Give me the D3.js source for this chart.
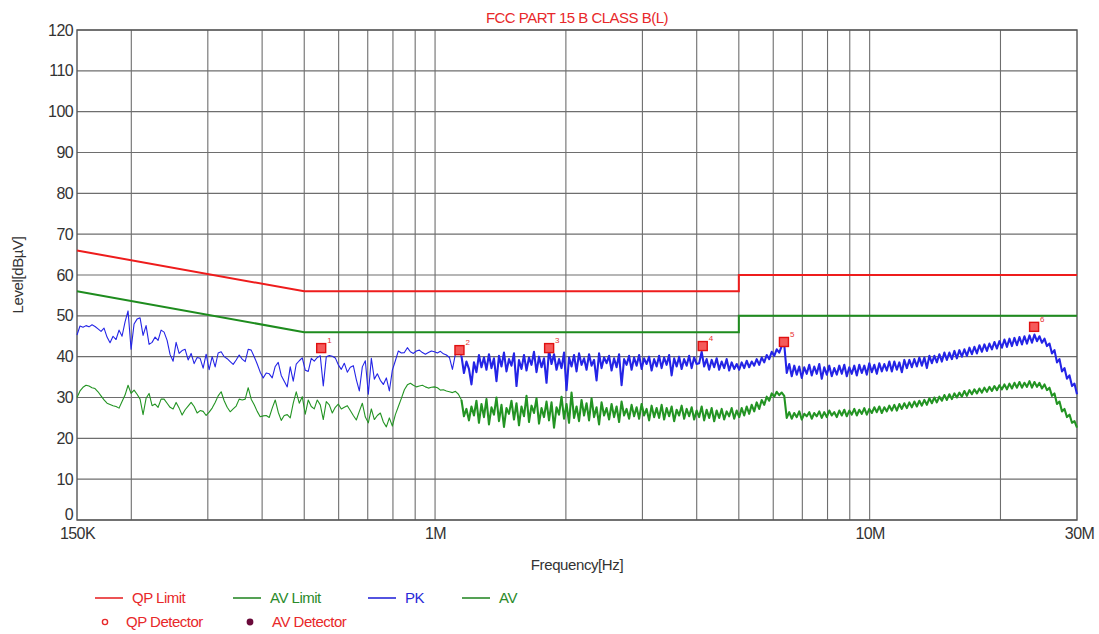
<!DOCTYPE html>
<html><head><meta charset="utf-8">
<script src="https://cdn.jsdelivr.net/npm/d3@7"></script>
<style>
body{margin:0;background:#fff}
svg{display:block}
text{font-family:"Liberation Sans",Arial,sans-serif}
</style>
</head><body>
<svg id="chart" width="1099" height="634"></svg>
<script>
// ---------- data ----------
const chartTitle = "FCC PART 15 B CLASS B(L)";
const yTickValues = [0,10,20,30,40,50,60,70,80,90,100,110,120];
const xTickFreqs = [0.15, 1, 10, 30];               // MHz
const xTickLabels = ["150K", "1M", "10M", "30M"];
const gridFreqs = [0.2,0.3,0.4,0.5,0.6,0.7,0.8,0.9,1,2,3,4,5,6,7,8,9,10,20];

const qpLimitFreq  = [0.15, 0.5, 5, 5, 30];
const qpLimitLevel = [66, 56, 56, 60, 60];
const avLimitFreq  = [0.15, 0.5, 5, 5, 30];
const avLimitLevel = [56, 46, 46, 50, 50];

// sweep segments: levels read at equal log-frequency steps
const seg1Range = [0.15, 1.15];   // MHz
const seg2Range = [1.15, 30];     // MHz

const pkSeg1 = [
45.3,47.5,47.2,47.6,47.3,47.8,47.4,46.8,46.2,47.0,
44.8,43.4,45.0,44.2,46.5,45.0,48.5,51.2,41.8,48.0,
49.2,49.5,45.2,47.6,43.0,43.5,44.8,44.0,46.5,46.0,
44.0,40.5,38.9,43.5,40.8,41.5,41.8,39.2,40.8,38.3,
39.8,39.6,37.2,40.6,36.8,40.0,37.5,40.9,41.2,40.0,
39.5,38.8,38.1,39.2,40.4,39.4,38.8,41.8,41.6,40.0,
38.2,36.2,34.8,36.0,35.8,34.8,37.6,38.6,35.4,34.0,
32.6,37.5,34.0,38.2,39.0,39.7,36.7,36.4,39.6,38.9,
39.8,40.2,32.8,40.0,40.3,40.1,39.7,38.0,36.9,38.4,
36.2,37.4,37.8,34.4,31.6,37.5,39.0,30.8,39.6,34.5,
35.8,34.2,33.2,34.8,31.6,36.7,39.0,41.4,40.9,41.0,
42.2,41.2,40.8,41.4,41.6,41.0,40.6,41.0,41.4,41.2,
40.9,41.3,40.7,40.4,39.8,36.9,40.7,41.0,40.2];

const pkSeg2 = [
40.2,36.0,38.8,37.0,33.2,38.6,36.2,40.4,37.4,39.8,
36.8,40.6,37.2,39.6,34.0,40.2,37.6,41.0,36.4,39.4,
37.8,40.8,32.8,39.2,37.0,40.4,36.6,39.8,38.0,41.2,
36.2,40.0,37.4,39.6,33.6,41.6,38.2,40.6,36.8,39.4,
37.2,41.0,31.8,39.8,37.6,40.4,36.4,40.8,38.0,39.6,
36.8,40.6,37.8,39.2,34.2,40.8,37.2,39.8,38.4,40.2,
36.6,39.6,37.4,40.6,33.0,39.4,38.0,40.2,36.8,39.8,
37.8,40.4,37.0,39.6,38.2,40.0,36.6,39.4,37.6,40.2,
37.2,39.8,38.0,40.4,35.4,39.6,37.6,40.0,37.0,39.4,
37.8,40.2,37.2,39.8,38.2,38.4,41.2,37.6,39.4,36.8,
39.2,37.4,39.6,36.8,38.8,37.2,39.4,36.6,38.6,37.0,
38.2,36.8,38.6,37.2,39.0,37.4,38.8,37.8,39.4,38.0,
39.8,38.6,40.4,39.4,41.2,40.2,41.8,41.0,42.6,43.0,
36.0,38.2,35.2,37.8,35.6,37.6,34.8,37.4,35.8,38.0,
35.4,37.6,35.8,38.2,34.6,37.4,35.6,37.8,35.2,37.2,
35.6,37.8,35.8,38.0,35.2,37.4,35.8,37.8,35.4,38.0,
36.0,37.8,35.6,38.4,36.2,38.0,35.8,38.4,36.4,38.2,
36.6,38.8,36.4,38.8,36.8,38.6,36.2,39.2,37.2,39.2,
37.4,39.4,37.6,39.8,37.8,39.8,37.2,40.2,38.4,40.2,
38.6,40.6,38.8,41.0,39.2,41.0,39.4,41.4,39.6,41.6,
40.0,41.8,40.2,42.2,40.6,42.4,40.8,42.8,41.2,43.0,
41.4,43.2,41.8,43.6,42.0,43.8,42.2,44.2,42.4,44.4,
42.6,44.6,42.8,44.8,43.0,45.0,43.2,45.2,43.4,45.4,
43.8,45.0,43.4,44.4,42.6,43.2,40.8,41.6,38.6,39.4,
36.4,37.2,34.6,35.4,32.8,33.4,30.8];

const avSeg1 = [
30.0,31.6,32.5,33.0,32.8,32.4,32.2,31.4,30.4,29.4,
28.6,28.3,28.0,27.8,27.4,29.0,30.6,33.0,31.0,31.8,
30.8,29.6,25.8,29.8,31.0,28.0,28.4,27.6,29.6,29.6,
28.6,27.6,27.2,28.8,27.4,25.7,27.0,27.9,28.8,27.8,
26.2,26.8,26.6,25.6,26.4,27.4,28.8,30.4,31.4,29.2,
27.6,26.5,27.2,27.9,29.6,29.4,29.6,32.4,29.6,28.2,
26.6,25.3,25.5,25.6,25.1,27.4,29.4,26.4,24.4,25.6,
25.8,25.0,28.6,31.4,28.6,30.2,25.9,29.4,27.8,27.2,
29.4,28.2,24.6,29.0,28.2,26.2,27.6,28.4,27.2,27.6,
28.0,26.8,25.6,24.5,26.6,28.6,25.2,23.8,27.2,24.6,
25.6,26.2,24.0,22.8,25.0,23.0,25.8,27.8,29.8,31.9,
33.1,33.5,33.0,32.6,32.8,33.0,32.6,32.3,32.5,32.6,
32.4,31.8,31.9,31.6,31.4,31.2,31.5,30.8,29.4];

const avSeg2 = [
29.4,25.4,27.2,24.4,27.8,25.6,29.2,23.8,28.4,25.2,
29.6,23.4,27.6,25.8,30.0,24.2,28.2,22.8,27.4,26.0,
29.2,24.6,28.6,23.2,27.8,25.4,30.4,24.0,28.0,26.2,
29.8,23.6,27.4,25.2,29.0,24.4,28.8,22.6,27.6,25.8,
30.2,24.8,28.4,23.8,31.2,25.0,27.8,24.2,29.4,25.6,
28.6,24.4,29.8,25.2,27.6,23.4,28.8,25.6,27.4,24.6,
28.4,25.2,27.8,24.0,29.0,25.6,27.2,24.8,28.2,25.4,
27.6,24.8,28.4,25.6,27.2,24.4,28.0,25.2,27.4,25.0,
28.2,24.6,27.4,25.4,27.8,24.2,27.0,25.6,28.0,24.8,
27.2,25.4,27.6,24.6,26.8,25.2,27.8,24.4,27.0,25.0,
27.4,24.2,26.8,25.0,27.2,24.6,26.6,25.4,27.4,24.8,
26.8,25.2,27.4,25.6,27.8,26.0,28.2,26.6,28.8,27.2,
29.4,28.2,30.2,29.2,31.0,30.2,31.4,30.6,31.2,30.4,
25.0,26.4,24.8,26.2,25.2,26.6,24.6,26.0,25.4,26.4,
24.8,26.2,25.4,26.6,25.0,26.4,25.2,26.8,25.6,26.4,
25.2,26.8,25.6,27.0,25.4,26.8,25.8,27.2,25.6,27.0,
26.0,27.4,25.8,27.2,26.2,27.6,26.4,27.8,26.2,27.6,
26.6,28.0,26.8,28.2,26.8,28.4,27.2,28.6,27.4,28.8,
27.6,29.0,27.8,29.2,28.0,29.4,28.2,29.8,28.6,30.0,
28.8,30.2,29.2,30.6,29.4,30.8,29.6,31.0,30.0,31.2,
30.2,31.6,30.4,31.8,30.8,32.0,31.0,32.2,31.2,32.4,
31.4,32.6,31.6,32.8,31.8,33.0,32.0,33.2,32.0,33.4,
32.2,33.6,32.4,33.8,32.4,33.6,32.6,34.0,32.4,33.8,
32.6,33.6,32.2,33.2,31.8,32.4,30.4,31.0,28.4,29.0,
26.6,27.2,25.2,25.8,23.8,24.2,22.6];

const markerIds    = [1, 2, 3, 4, 5, 6];
const markerFreq   = [0.547, 1.138, 1.83, 4.13, 6.35, 23.9];   // MHz
const markerLevel  = [42.1, 41.6, 42.1, 42.6, 43.6, 47.3];     // dBµV

const legendLabels = ["QP Limit", "AV Limit", "PK", "AV"];
const legendColors = ["#e8282a", "#2a8a2a", "#2828d8", "#2a8a2a"];

// ---------- layout ----------
const svg = d3.select("#chart");
const pL = 77, pR = 1077, pT = 30, pB = 520;

const x = d3.scaleLog().domain([0.15, 30]).range([pL, pR]);
const y = d3.scaleLinear().domain([0, 120]).range([pB, pT]);

function sweep(range, levels){
  const l0 = Math.log10(range[0]), l1 = Math.log10(range[1]);
  const n = levels.length;
  return levels.map((v,i)=>({f: Math.pow(10, l0 + (l1-l0)*i/(n-1)), v}));
}
const pk1 = sweep(seg1Range, pkSeg1), pk2 = sweep(seg2Range, pkSeg2);
const av1 = sweep(seg1Range, avSeg1), av2 = sweep(seg2Range, avSeg2);

// ---------- grid ----------
const grid = svg.append("g");
grid.selectAll("line.v").data(gridFreqs).join("line")
  .attr("x1", d=>x(d)).attr("x2", d=>x(d))
  .attr("y1", pT).attr("y2", pB)
  .attr("stroke", "#6e6e6e").attr("stroke-width", 1.1);
grid.selectAll("line.h").data(yTickValues).join("line")
  .attr("x1", pL).attr("x2", pR)
  .attr("y1", d=>y(d)).attr("y2", d=>y(d))
  .attr("stroke", "#6e6e6e").attr("stroke-width", 1.1);
svg.append("rect").attr("x", pL).attr("y", pT)
  .attr("width", pR-pL).attr("height", pB-pT)
  .attr("fill", "none").attr("stroke", "#555").attr("stroke-width", 1.4);

// ---------- axes (labels) ----------
const yAxis = d3.axisLeft(y).tickValues(yTickValues).tickSize(0).tickPadding(4);
const gy = svg.append("g").attr("transform", `translate(${pL},0)`).call(yAxis);
gy.select(".domain").remove();
gy.selectAll("text").attr("font-size", 16).attr("fill", "#333")
  .attr("font-family", '"Liberation Sans",Arial,sans-serif').attr("letter-spacing", "-0.6");
gy.selectAll(".tick").filter(d=>d===0).select("text").attr("dy", "-0.05em");

const xAxis = d3.axisBottom(x).tickValues(xTickFreqs)
  .tickFormat((d,i)=>xTickLabels[i]).tickSize(0).tickPadding(8);
const gx = svg.append("g").attr("transform", `translate(0,${pB})`).call(xAxis);
gx.select(".domain").remove();
gx.selectAll("text").attr("font-size", 16).attr("fill", "#333")
  .attr("font-family", '"Liberation Sans",Arial,sans-serif').attr("letter-spacing", "-0.6");
gx.selectAll(".tick").filter((d,i)=>i===3).select("text").attr("dx", 2);

svg.append("text").attr("x", 577).attr("y", 570).attr("text-anchor", "middle")
  .attr("font-size", 15).attr("fill", "#333").attr("letter-spacing", "-0.4").text("Frequency[Hz]");
svg.append("text").attr("transform", "translate(23,275) rotate(-90)")
  .attr("text-anchor", "middle").attr("font-size", 15).attr("fill", "#333")
  .attr("letter-spacing", "-0.4").text("Level[dBµV]");

svg.append("text").attr("x", 577).attr("y", 23).attr("text-anchor", "middle")
  .attr("font-size", 15).attr("fill", "#e8282a").attr("letter-spacing", "-0.5").text(chartTitle);

// ---------- traces ----------
const line = d3.line().x(d=>x(d.f)).y(d=>y(d.v));
const plot = svg.append("g");

function trace(data, color, w){
  plot.append("path").datum(data).attr("d", line)
    .attr("fill", "none").attr("stroke", color).attr("stroke-width", w).attr("stroke-linejoin", "round");
}
trace(av1, "#239423", 1.1);
trace(av2, "#239423", 2.1);
trace(pk1, "#2424e6", 1.1);
trace(pk2, "#2424e6", 2.1);

const limLine = d3.line().x(d=>x(d[0])).y(d=>y(d[1]));
plot.append("path").datum(d3.zip(qpLimitFreq, qpLimitLevel)).attr("d", limLine)
  .attr("fill", "none").attr("stroke", "#ee1c1c").attr("stroke-width", 2);
plot.append("path").datum(d3.zip(avLimitFreq, avLimitLevel)).attr("d", limLine)
  .attr("fill", "none").attr("stroke", "#1e8c1e").attr("stroke-width", 2);

// ---------- markers ----------
const markers = markerIds.map((id,i)=>({id, f:markerFreq[i], v:markerLevel[i]}));
const mg = plot.selectAll("g.mk").data(markers).join("g")
  .attr("transform", d=>`translate(${x(d.f)},${y(d.v)})`);
mg.append("rect").attr("x", -4.5).attr("y", -4.5).attr("width", 9).attr("height", 9)
  .attr("fill", "#f55a5a").attr("stroke", "#e01010").attr("stroke-width", 1.4);
mg.append("text").attr("x", 6).attr("y", -5).attr("font-size", 8)
  .attr("fill", "#e83030").text(d=>d.id);

// ---------- legend ----------
const lg1X = [95, 233, 368, 462];
const lg = svg.append("g");
legendLabels.forEach((lab,i)=>{
  lg.append("line").attr("x1", lg1X[i]).attr("x2", lg1X[i]+28)
    .attr("y1", 598).attr("y2", 598).attr("stroke", legendColors[i]).attr("stroke-width", 1.6);
  lg.append("text").attr("x", lg1X[i]+37).attr("y", 603).attr("font-size", 15)
    .attr("letter-spacing", "-0.5").attr("fill", legendColors[i]).text(lab);
});
lg.append("circle").attr("cx", 105).attr("cy", 622).attr("r", 2.6)
  .attr("fill", "none").attr("stroke", "#e8282a").attr("stroke-width", 1.4);
lg.append("text").attr("x", 126).attr("y", 627).attr("font-size", 15)
  .attr("letter-spacing", "-0.5").attr("fill", "#e8282a").text("QP Detector");
lg.append("circle").attr("cx", 250).attr("cy", 622).attr("r", 3.4).attr("fill", "#6a0a3a");
lg.append("text").attr("x", 272).attr("y", 627).attr("font-size", 15)
  .attr("letter-spacing", "-0.5").attr("fill", "#e8282a").text("AV Detector");
</script>
</body></html>
